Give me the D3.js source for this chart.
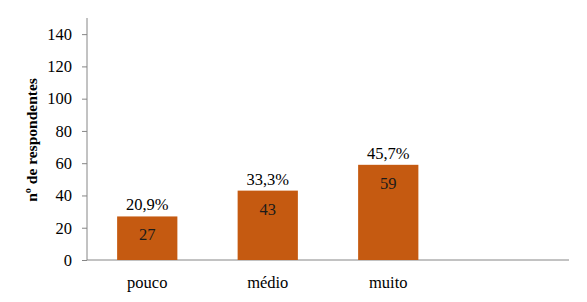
<!DOCTYPE html>
<html><head><meta charset="utf-8">
<script src="https://cdn.jsdelivr.net/npm/d3@7"></script>
<style>body{margin:0;background:#fff}</style>
</head><body><svg id="c" width="587" height="302"></svg>
<script>
const categories = ["pouco", "médio", "muito", ""];
const values = [27, 43, 59, null];
const percentLabels = ["20,9%", "33,3%", "45,7%", ""];
const yTicks = [0, 20, 40, 60, 80, 100, 120, 140];
const yTitle = "nº de respondentes";

const svg = d3.select("#c");
const x = d3.scaleBand().domain(categories).range([87, 569]).paddingInner(0.5).paddingOuter(0.25);
const y = d3.scaleLinear().domain([0, 150]).range([260, 18]);

// y axis
const ya = svg.append("g").attr("transform", "translate(87,0)")
  .call(d3.axisLeft(y).tickValues(yTicks).tickSize(5).tickPadding(10).tickFormat(d3.format("d")));
ya.select(".domain").attr("stroke", "#868686").attr("d", "M0,18V260");
ya.selectAll(".tick line").attr("stroke", "#868686");
ya.selectAll(".tick text").attr("fill", "#000");

// x axis
const xa = svg.append("g").attr("transform", "translate(0,260)")
  .call(d3.axisBottom(x).tickSize(0).tickPadding(16));
xa.select(".domain").attr("stroke", "#868686").attr("d", "M87,0H569");
xa.selectAll(".tick text").attr("fill", "#000");

const data = categories.map((c, i) => ({c, v: values[i], p: percentLabels[i]})).filter(d => d.v != null);

svg.append("g").selectAll("rect").data(data).join("rect")
  .attr("x", d => x(d.c)).attr("width", x.bandwidth())
  .attr("y", d => y(d.v)).attr("height", d => y(0) - y(d.v))
  .attr("fill", "#C55A11");

svg.append("g").selectAll("text").data(data).join("text")
  .attr("x", d => x(d.c) + x.bandwidth() / 2).attr("y", d => y(d.v) + 24)
  .attr("text-anchor", "middle").attr("fill", "#1a1a1a")
  .text(d => d.v);

svg.append("g").selectAll("text").data(data).join("text")
  .attr("x", d => x(d.c) + x.bandwidth() / 2).attr("y", d => y(d.v) - 6)
  .attr("text-anchor", "middle").attr("fill", "#000")
  .text(d => d.p);

svg.append("text").attr("class", "title").attr("transform", "translate(37,140) rotate(-90)")
  .attr("text-anchor", "middle").attr("font-weight", "bold")
  .text(yTitle);

svg.selectAll("text")
  .style("font-family", "'Liberation Serif', serif")
  .style("font-size", "16.5px");
svg.select("text.title").style("font-size", "15.5px");
</script></body></html>
